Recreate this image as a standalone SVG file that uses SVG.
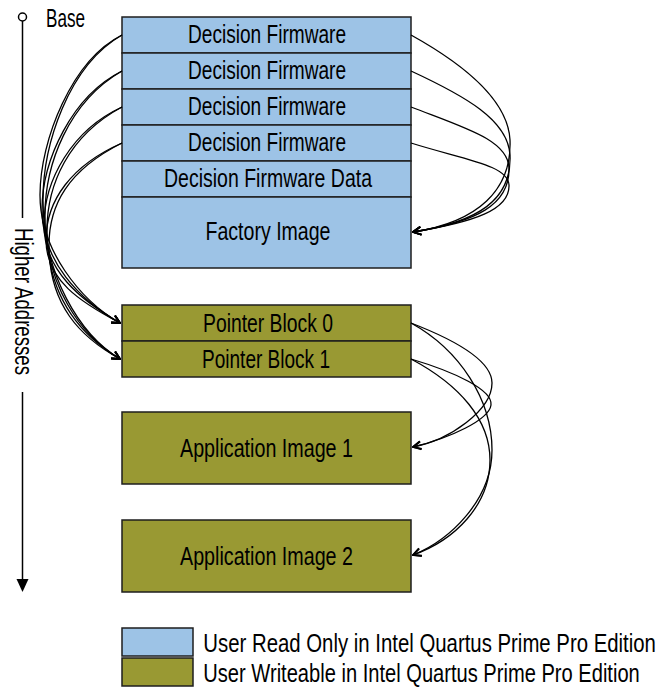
<svg xmlns="http://www.w3.org/2000/svg" width="660" height="688" viewBox="0 0 660 688">
  <style>
    .blk { stroke: #1e1e1e; stroke-width: 1.5; }
    .ro { fill: #9dc3e6; }
    .rw { fill: #999933; }
    .lbl { font-family: "Liberation Sans", Arial, sans-serif; font-size: 25px; fill: #000; }
    .key { font-size: 25.5px; }
    .mid { text-anchor: middle; }
    .wire { fill: none; stroke: #000; stroke-width: 1.3; marker-end: url(#vee); }
  </style>
  <defs>
    <marker id="vee" viewBox="0 0 10 10" refX="9" refY="5" markerWidth="10" markerHeight="10" markerUnits="userSpaceOnUse" orient="auto">
      <path d="M1,1 L9,5 L1,9" fill="none" stroke="#000" stroke-width="1.8"/>
    </marker>
  </defs>
  <rect width="660" height="688" fill="#fff"/>

  <!-- address axis -->
  <g id="axis">
    <line x1="22.5" y1="21" x2="22.5" y2="218" stroke="#000" stroke-width="1.5"/>
    <line x1="22.5" y1="392" x2="22.5" y2="580" stroke="#000" stroke-width="1.5"/>
    <circle cx="22.5" cy="17" r="4" fill="#fff" stroke="#000" stroke-width="1.5"/>
    <polygon points="16.5,579 28.5,579 22.5,592" fill="#000"/>
    <text class="lbl" x="46" y="26.5" textLength="39" lengthAdjust="spacingAndGlyphs">Base</text>
    <text class="lbl mid" transform="translate(15,301.5) rotate(90)" textLength="147" lengthAdjust="spacingAndGlyphs">Higher Addresses</text>
  </g>

  <!-- read-only region -->
  <g id="df1"><rect class="blk ro" x="122" y="17" width="289" height="36"/><text class="lbl mid" x="267" y="43.3" textLength="158" lengthAdjust="spacingAndGlyphs">Decision Firmware</text></g>
  <g id="df2"><rect class="blk ro" x="122" y="53" width="289" height="36"/><text class="lbl mid" x="267" y="79.3" textLength="158" lengthAdjust="spacingAndGlyphs">Decision Firmware</text></g>
  <g id="df3"><rect class="blk ro" x="122" y="89" width="289" height="36"/><text class="lbl mid" x="267" y="115.3" textLength="158" lengthAdjust="spacingAndGlyphs">Decision Firmware</text></g>
  <g id="df4"><rect class="blk ro" x="122" y="125" width="289" height="36"/><text class="lbl mid" x="267" y="151.3" textLength="158" lengthAdjust="spacingAndGlyphs">Decision Firmware</text></g>
  <g id="dfdata"><rect class="blk ro" x="122" y="161" width="289" height="36"/><text class="lbl mid" x="268" y="186.7" textLength="208" lengthAdjust="spacingAndGlyphs">Decision Firmware Data</text></g>
  <g id="factory"><rect class="blk ro" x="122" y="197" width="289" height="71"/><text class="lbl mid" x="268" y="240" textLength="125" lengthAdjust="spacingAndGlyphs">Factory Image</text></g>

  <!-- writeable region -->
  <g id="pb0"><rect class="blk rw" x="122" y="305" width="289" height="36"/><text class="lbl mid" x="268" y="331.5" textLength="130" lengthAdjust="spacingAndGlyphs">Pointer Block 0</text></g>
  <g id="pb1"><rect class="blk rw" x="122" y="341" width="289" height="36"/><text class="lbl mid" x="266" y="367.5" textLength="128" lengthAdjust="spacingAndGlyphs">Pointer Block 1</text></g>
  <g id="app1"><rect class="blk rw" x="122" y="412" width="289" height="72"/><text class="lbl mid" x="266.5" y="456.5" textLength="173" lengthAdjust="spacingAndGlyphs">Application Image 1</text></g>
  <g id="app2"><rect class="blk rw" x="122" y="520" width="289" height="72"/><text class="lbl mid" x="266.5" y="564.5" textLength="173" lengthAdjust="spacingAndGlyphs">Application Image 2</text></g>

  <!-- connectors -->
  <g id="connectors">
    <!-- decision firmware to pointer blocks -->
    <path class="wire" d="M122,35 C72,60 40,140 40,195 C40,250 80,300 120,323"/>
    <path class="wire" d="M122,35 C68,66 43,145 43,200 C43,275 80,335 120,359"/>
    <path class="wire" d="M122,71 C72,96 42,160 42,210 C42,262 80,300 120,323"/>
    <path class="wire" d="M122,71 C68,102 45,165 45,215 C45,285 80,335 120,359"/>
    <path class="wire" d="M122,107 C72,130 44,180 44,225 C44,270 80,300 120,323"/>
    <path class="wire" d="M122,107 C68,136 47,185 47,230 C47,295 80,335 120,359"/>
    <path class="wire" d="M122,143 C72,165 46,200 46,240 C46,280 80,302 120,323"/>
    <path class="wire" d="M122,143 C68,170 49,205 49,245 C49,305 80,337 120,359"/>
    <!-- decision firmware to factory image -->
    <path class="wire" d="M411,35 C465,65 508,100 510,140 C512,190 478,222 413,232"/>
    <path class="wire" d="M411,71 C465,96 508,120 510,155 C512,200 478,222 413,232"/>
    <path class="wire" d="M411,107 C465,128 508,140 509,168 C510,205 476,222 413,232"/>
    <path class="wire" d="M411,143 C465,160 508,165 509,185 C510,210 474,222 413,232"/>
    <!-- pointer blocks to application images -->
    <path class="wire" d="M411,323 C455,340 492,360 492,383 C492,410 450,440 413,447"/>
    <path class="wire" d="M411,359 C455,372 493,390 491,405 C489,420 450,438 413,447"/>
    <path class="wire" d="M411,323 C460,350 492,400 492,450 C492,500 450,540 413,555"/>
    <path class="wire" d="M411,359 C460,385 490,420 490,460 C490,505 455,540 413,555"/>
  </g>

  <!-- legend -->
  <g id="legend">
    <rect class="blk ro" x="122" y="628" width="71" height="28"/>
    <text class="lbl key" transform="translate(203.3,652) scale(0.799,1)">User Read Only in Intel Quartus Prime Pro Edition</text>
    <rect class="blk rw" x="122" y="658" width="71" height="28"/>
    <text class="lbl key" transform="translate(203.3,681.5) scale(0.7887,1)">User Writeable in Intel Quartus Prime Pro Edition</text>
  </g>
</svg>
